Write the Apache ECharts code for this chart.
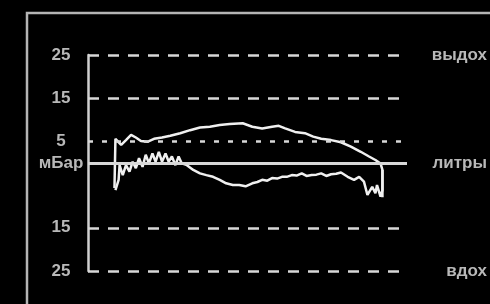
<!DOCTYPE html>
<html>
<head>
<meta charset="utf-8">
<script src="https://cdn.jsdelivr.net/npm/echarts@6/dist/echarts.min.js"></script>
<style>
  html, body { margin: 0; padding: 0; background: #000; }
  #chart { width: 490px; height: 304px; }
</style>
</head>
<body>
<div id="chart"></div>
<script>
// уровни давления (мБар), подписи слева и справа
const levels = [25, 15, 5, 0, -15, -25]
const leftLabels = { 25: '25', 15: '15', 5: '5', 0: 'мБар', '-15': '15', '-25': '25' }
const rightLabels = { 25: 'выдох', 0: 'литры', '-25': 'вдох' }

// верхняя ветвь петли (выдох): [объём, давление]
const upper = [
  [8.3, -5.8], [8.6, 5.6], [10.4, 4.2], [11.9, 5.3], [13.5, 6.5], [15.0, 5.9],
  [16.6, 5.1], [18.6, 4.9], [20.7, 5.6], [23.2, 5.9], [25.8, 6.3], [28.9, 6.9],
  [32.0, 7.6], [35.1, 8.2], [38.2, 8.4], [41.3, 8.8], [44.4, 9.0], [48.5, 9.2],
  [51.5, 8.4], [54.6, 8.0], [57.7, 8.4], [59.8, 8.6], [61.8, 8.0], [64.9, 7.2],
  [68.0, 6.9], [70.6, 6.1], [73.1, 5.6], [76.2, 5.3], [79.3, 4.8], [82.4, 3.8],
  [85.5, 2.6], [88.1, 1.5], [90.1, 0.7], [91.7, -0.1], [92.3, -1.6], [92.3, -7.9]
]

// нижняя ветвь петли (вдох)
const lower = [
  [8.6, -6.3], [9.6, -3.9], [9.9, -0.5], [10.9, -2.8], [11.9, -0.5], [13.0, -2.0],
  [14.0, 0.3], [15.0, -1.2], [16.0, 1.1], [17.1, -0.9], [18.1, 1.9], [19.1, -0.1],
  [20.2, 2.2], [21.2, 0.3], [22.2, 2.6], [23.2, 0.3], [24.3, 2.2], [25.3, 0.3],
  [26.3, 1.5], [27.4, -0.5], [28.4, 1.5], [29.4, -0.1], [31.0, -0.5], [33.0, -1.6],
  [35.1, -2.4], [37.1, -2.8], [39.2, -3.2], [41.3, -3.9], [43.3, -4.7], [45.4, -5.1],
  [47.4, -5.1], [49.4, -5.4], [51.5, -4.7], [53.1, -4.4], [54.6, -3.9], [56.2, -4.1],
  [57.7, -3.5], [59.3, -3.6], [60.8, -3.2], [62.3, -3.2], [63.9, -2.8], [65.4, -2.9],
  [67.0, -2.4], [68.5, -3.0], [70.1, -2.8], [71.6, -2.7], [73.1, -2.4], [74.7, -3.0],
  [76.2, -2.6], [77.8, -2.5], [79.3, -2.2], [81.4, -3.2], [83.4, -3.9], [85.0, -3.2],
  [86.5, -4.3], [87.6, -7.4], [89.1, -5.5], [90.1, -7.0], [90.6, -5.1], [91.7, -7.8],
  [92.3, -6.3], [92.3, -1.6]
]

const chart = echarts.init(document.getElementById('chart'))

const labelFont = {
  color: '#b8b8b8',
  fontSize: 17,
  fontWeight: 'bold',
  fontFamily: 'Liberation Sans, Arial, sans-serif'
}

// линии уровней: длинный пунктир, точечный на 5, сплошная на нуле
const levelLines = levels.map(v => {
  let type = [11, 9]
  if (v === 5) type = [5, 9]
  if (v === 0) type = 'solid'
  return {
    yAxis: v,
    lineStyle: { color: '#d8d8d8', width: v === 0 ? 3 : 2.5, type: type }
  }
})

const option = {
  backgroundColor: '#000',
  animation: false,
  grid: { left: 88, right: 78, top: 55, bottom: 33 },
  graphic: [
    {
      type: 'rect',
      shape: { x: 27, y: 13, width: 520, height: 400 },
      style: { fill: 'none', stroke: '#b5b5b5', lineWidth: 2.5 },
      silent: true
    }
  ],
  xAxis: {
    type: 'value',
    min: 0,
    max: 100,
    show: false
  },
  yAxis: [
    {
      type: 'value',
      min: -25,
      max: 25,
      interval: 5,
      axisLine: { show: true, lineStyle: { color: '#d0d0d0', width: 2.5 } },
      axisTick: { show: false },
      splitLine: { show: false },
      axisLabel: Object.assign({
        align: 'center',
        margin: 27,
        formatter: v => leftLabels[v] || ''
      }, labelFont)
    },
    {
      type: 'value',
      position: 'right',
      min: -25,
      max: 25,
      interval: 5,
      axisLine: { show: false },
      axisTick: { show: false },
      splitLine: { show: false },
      axisLabel: Object.assign({
        align: 'right',
        margin: 80,
        formatter: v => rightLabels[v] || ''
      }, labelFont)
    }
  ],
  series: [
    {
      name: 'выдох',
      type: 'line',
      data: upper,
      symbol: 'none',
      lineStyle: { color: '#f0f0f0', width: 2.5 },
      z: 3,
      markLine: {
        silent: true,
        symbol: 'none',
        label: { show: false },
        data: levelLines
      }
    },
    {
      name: 'вдох',
      type: 'line',
      data: lower,
      symbol: 'none',
      lineStyle: { color: '#f0f0f0', width: 2.5 },
      z: 3
    }
  ]
}

chart.setOption(option)
</script>
</body>
</html>
